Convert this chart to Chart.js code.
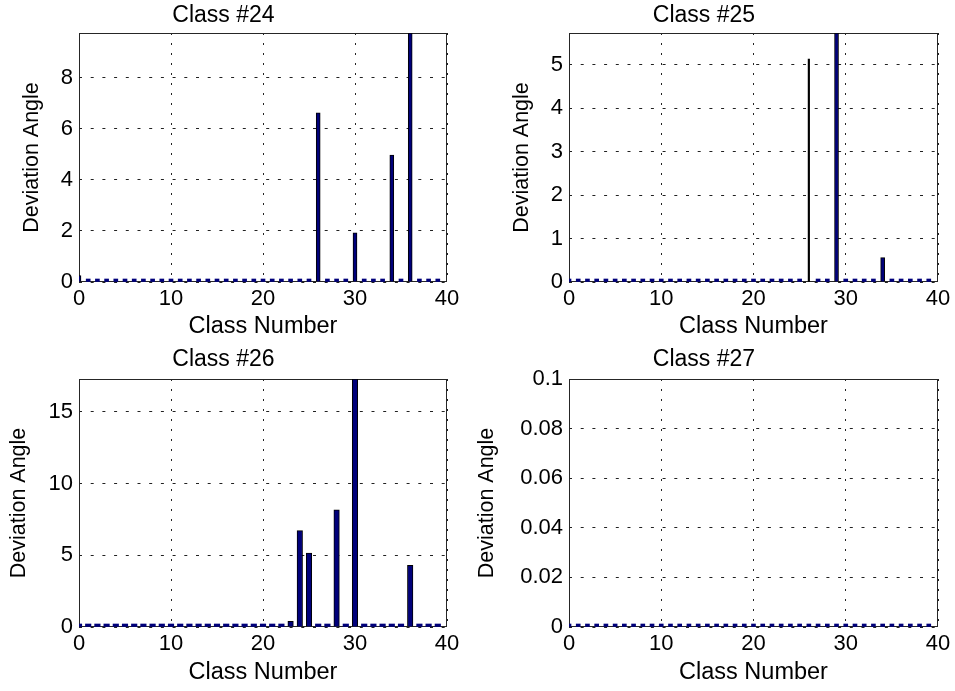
<!DOCTYPE html>
<html>
<head>
<meta charset="utf-8">
<title>Deviation angle per class</title>
<script src="https://cdn.jsdelivr.net/npm/chart.js@4.4.1/dist/chart.umd.min.js"></script>
<style>
body { margin: 0; background: #fff; }
#wrap { position: relative; width: 955px; height: 691px; overflow: hidden; }
#wrap canvas { position: absolute; }
</style>
</head>
<body>
<div id="wrap">
  <canvas id="c24" width="477" height="345" style="left:0;top:0"></canvas>
  <canvas id="c25" width="485" height="345" style="left:470px;top:0"></canvas>
  <canvas id="c26" width="477" height="346" style="left:0;top:345px"></canvas>
  <canvas id="c27" width="485" height="346" style="left:470px;top:345px"></canvas>
</div>
<script>
// class numbers on the x axis
var classNums = [0,1,2,3,4,5,6,7,8,9,10,11,12,13,14,15,16,17,18,19,
                 20,21,22,23,24,25,26,27,28,29,30,31,32,33,34,35,36,37,38,39];

// deviation angle of each class, one array per reference class
var class24 = [0.25,0,0,0,0,0,0,0,0,0, 0,0,0,0,0,0,0,0,0,0,
               0,0,0,0,0,0,6.63,0,0,0, 1.93,0,0,0,4.97,0,9.76,0,0,0];
var class25 = [0,0,0,0,0,0,0,0,0,0, 0,0,0,0,0,0,0,0,0,0,
               0,0,0,0,0,0,5.13,0,0,5.73, 0,0,0,0,0.56,0,0,0,0,0];
var class26 = [0,0,0,0,0,0,0,0,0,0, 0,0,0,0,0,0,0,0,0,0,
               0,0,0,0.4,6.72,5.15,0,0,8.16,0, 17.28,0,0,0,0,0,4.29,0,0,0];
var class27 = [0,0,0,0,0,0,0,0,0,0, 0,0,0,0,0,0,0,0,0,0,
               0,0,0,0,0,0,0,0,0,0, 0,0,0,0,0,0,0,0,0,0];

var xTicks = [0, 10, 20, 30, 40];

Chart.defaults.font.family = "'Liberation Sans', Arial, sans-serif";
Chart.defaults.color = '#000';

// matlab style closed box round the plot area, drawn under the bars
var boxPlugin = {
  id: 'box',
  beforeDatasetsDraw: function(chart) {
    var a = chart.chartArea;
    var c = chart.ctx;
    var l = Math.round(a.left), t = Math.round(a.top);
    var r = Math.round(a.right), b = Math.round(a.bottom);
    c.save();
    c.strokeStyle = '#262626';
    c.lineWidth = 1;
    c.strokeRect(l + 0.5, t + 0.5, r - l - 1, b - t - 1);
    c.restore();
  }
};

var panels = [
  {id: 'c24', title: 'Class #24', values: class24, yMax: Math.max.apply(null, class24), yStep: 2,
   barPx: 4, thin: [], yWidth: 79, rightPad: 30, xHeight: 63, yTitlePad: 19.5,
   titleTop: 1.5, titleBottom: 3.9, xTickPad: 3.5},
  {id: 'c25', title: 'Class #25', values: class25, yMax: Math.max.apply(null, class25), yStep: 1,
   barPx: 4, thin: [26], yWidth: 99, rightPad: 17, xHeight: 63, yTitlePad: 39.5,
   titleTop: 1.5, titleBottom: 3.9, xTickPad: 3.5},
  {id: 'c26', title: 'Class #26', values: class26, yMax: Math.max.apply(null, class26), yStep: 5,
   barPx: 5.5, thin: [], yWidth: 79, rightPad: 30, xHeight: 64, yTitlePad: 6,
   titleTop: 1, titleBottom: 5.4, xTickPad: 4},
  {id: 'c27', title: 'Class #27', values: class27, yMax: 0.1, yStep: 0.02,
   barPx: 4, thin: [], yWidth: 99, rightPad: 17, xHeight: 64, yTitlePad: 4.5,
   titleTop: 1, titleBottom: 5.4, xTickPad: 4}
];

function makeChart(p) {
  var wide = [], thin = [];
  for (var i = 0; i < classNums.length; i++) {
    var pt = {x: classNums[i], y: p.values[i]};
    if (p.thin.indexOf(classNums[i]) >= 0) thin.push(pt);
    else wide.push(pt);
  }
  new Chart(document.getElementById(p.id), {
    type: 'bar',
    data: {
      datasets: [
        {
          data: wide,
          backgroundColor: '#00007a',
          borderColor: '#000',
          borderWidth: function(c) { return c.raw && c.raw.y === 0 ? 0 : 1; },
          barThickness: p.barPx,
          // zero values still show as a flat stub sitting on the axis
          minBarLength: 3,
          clip: {left: 0, top: 0, right: 0, bottom: 3},
          grouped: false
        },
        {
          data: thin,
          backgroundColor: '#000',
          borderWidth: 0,
          barThickness: 1.5,
          grouped: false
        }
      ]
    },
    options: {
      responsive: false,
      animation: false,
      devicePixelRatio: 1,
      layout: {padding: {left: 0, top: 0, right: p.rightPad, bottom: 0}},
      plugins: {
        legend: {display: false},
        tooltip: {enabled: false},
        title: {
          display: true,
          text: p.title,
          color: '#000',
          font: {size: 23, weight: 'normal'},
          padding: {top: p.titleTop, bottom: p.titleBottom}
        }
      },
      scales: {
        x: {
          type: 'linear',
          min: 0,
          max: 40,
          offset: false,
          grid: {color: '#222', lineWidth: 1, drawTicks: false, offset: false},
          border: {display: false, dash: [2, 8]},
          afterBuildTicks: function(s) {
            s.ticks = xTicks.map(function(v) { return {value: v}; });
          },
          ticks: {padding: p.xTickPad, color: '#000', font: {size: 22}, maxRotation: 0, autoSkip: false},
          title: {
            display: true,
            text: 'Class Number',
            color: '#000',
            font: {size: 23.5},
            padding: {top: 0, bottom: 4.5}
          },
          afterFit: function(s) {
            s.height = p.xHeight;
            s.paddingLeft = 0;
            s.paddingRight = 0;
          }
        },
        y: {
          min: 0,
          max: p.yMax,
          grid: {color: '#222', lineWidth: 1, drawTicks: false},
          border: {display: false, dash: [3, 8.7]},
          ticks: {
            stepSize: p.yStep,
            includeBounds: false,
            padding: 6,
            color: '#000',
            font: {size: 22},
            callback: function(v) { return String(Number(v.toFixed(4))); }
          },
          title: {
            display: true,
            text: 'Deviation Angle',
            color: '#000',
            font: {size: 21.5},
            padding: {top: p.yTitlePad, bottom: 0}
          },
          afterFit: function(s) {
            s.width = p.yWidth;
            s.paddingTop = 0;
            s.paddingBottom = 0;
          }
        }
      }
    },
    plugins: [boxPlugin]
  });
}

panels.forEach(makeChart);
</script>
</body>
</html>
